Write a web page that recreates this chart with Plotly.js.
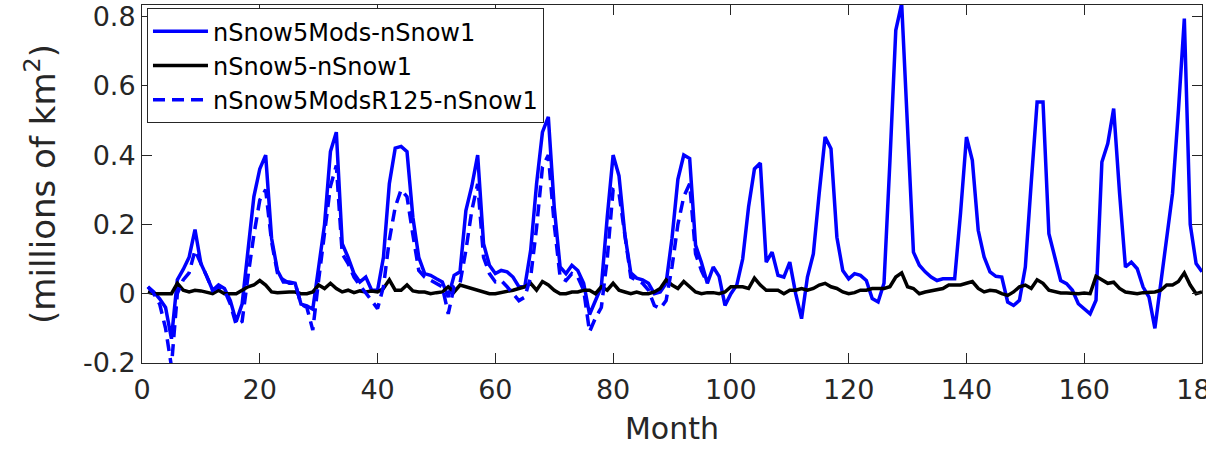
<!DOCTYPE html>
<html>
<head>
<meta charset="utf-8">
<script src="https://cdn.plot.ly/plotly-3.0.1.min.js"></script>
<style>html,body{margin:0;padding:0;background:#fff;}#chart{width:1206px;height:449px;}</style>
</head>
<body>
<div id="chart"></div>
<script>
// Series names
const seriesNames = ["nSnow5Mods-nSnow1", "nSnow5-nSnow1", "nSnow5ModsR125-nSnow1"];

// nSnow5Mods-nSnow1 (months 1..180)
const mods = [
  0.02, 0.005, -0.015, -0.04, -0.13, 0.04, 0.07, 0.105, 0.185, 0.087,
  0.05, 0.01, 0.025, 0.015, -0.02, -0.08, -0.03, 0.135, 0.28, 0.36,
  0.40, 0.16, 0.067, 0.034, 0.034, 0.03, -0.03, -0.035, -0.045, 0.077,
  0.2, 0.41, 0.466, 0.144, 0.105, 0.058, 0.034, 0.048, 0.01, 0.01,
  0.105, 0.317, 0.42, 0.425, 0.41, 0.22, 0.105, 0.058, 0.053, 0.043,
  0.034, -0.01, 0.053, 0.063, 0.24, 0.31, 0.40, 0.144, 0.082, 0.058,
  0.067, 0.063, 0.048, 0.02, 0.02, 0.125, 0.317, 0.466, 0.51, 0.25,
  0.077, 0.058, 0.082, 0.067, 0.03, -0.06, -0.02, 0.02, 0.22, 0.40,
  0.34, 0.17, 0.06, 0.045, 0.04, 0.03, 0.0, 0.005, 0.03, 0.16,
  0.33, 0.40, 0.39, 0.14, 0.09, 0.03, 0.077, 0.05, -0.034, 0.0,
  0.025, 0.1, 0.25, 0.36, 0.377, 0.091, 0.12, 0.053, 0.048, 0.091,
  0.0, -0.072, 0.048, 0.115, 0.29, 0.452, 0.418, 0.163, 0.067, 0.043,
  0.058, 0.053, 0.038, -0.014, -0.024, 0.03, 0.38, 0.76, 0.837, 0.48,
  0.12, 0.082, 0.063, 0.048, 0.038, 0.043, 0.043, 0.043, 0.233, 0.452,
  0.385, 0.183, 0.106, 0.063, 0.05, 0.048, -0.024, -0.034, -0.019, 0.077,
  0.32, 0.553, 0.553, 0.173, 0.106, 0.038, 0.029, 0.01, -0.029, -0.043,
  -0.058, -0.019, 0.38, 0.433, 0.534, 0.29, 0.077, 0.091, 0.072, 0.019,
  -0.01, -0.1, 0.029, 0.164, 0.29, 0.53, 0.794, 0.2, 0.087, 0.063
];

// nSnow5-nSnow1 (months 1..180)
const base5 = [
  0.005, 0.0, 0.0, 0.0, 0.0, 0.03, 0.01, 0.005, 0.01, 0.008,
  0.005, 0.0, 0.01, 0.0, 0.0, 0.0, 0.01, 0.02, 0.025, 0.038,
  0.025, 0.005, 0.003, 0.005, 0.005, 0.005, 0.0, 0.0, 0.005, 0.025,
  0.015, 0.03, 0.015, 0.005, 0.01, 0.003, 0.008, 0.005, 0.008, 0.005,
  0.015, 0.04, 0.01, 0.01, 0.025, 0.008, 0.005, 0.005, 0.0, 0.003,
  0.005, 0.02, 0.005, 0.025, 0.02, 0.015, 0.01, 0.005, 0.0, 0.0,
  0.003, 0.005, 0.01, 0.015, 0.02, 0.03, 0.01, 0.035, 0.025, 0.01,
  0.0, 0.0, 0.005, 0.005, 0.01, 0.01, 0.0, 0.02, 0.01, 0.03,
  0.01, 0.005, 0.0, 0.005, 0.0, 0.0, 0.005, 0.015, 0.04, 0.025,
  0.015, 0.035, 0.02, 0.005, 0.0, 0.003, 0.003, 0.0, 0.005, 0.02,
  0.02, 0.02, 0.015, 0.045, 0.025, 0.01, 0.01, 0.01, 0.0, 0.01,
  0.01, 0.015, 0.01, 0.015, 0.025, 0.03, 0.02, 0.015, 0.005, 0.0,
  0.003, 0.01, 0.01, 0.015, 0.015, 0.015, 0.02, 0.048, 0.06, 0.02,
  0.015, 0.0, 0.005, 0.008, 0.01, 0.015, 0.025, 0.025, 0.025, 0.03,
  0.035, 0.015, 0.005, 0.01, 0.008, 0.0, -0.005, 0.005, 0.02, 0.025,
  0.015, 0.04, 0.03, 0.01, 0.005, 0.002, 0.002, 0.0, 0.0, 0.002,
  0.0, 0.05, 0.04, 0.03, 0.033, 0.015, 0.005, 0.002, 0.0, 0.003,
  0.005, 0.005, 0.01, 0.025, 0.025, 0.035, 0.06, 0.025, 0.0, 0.005
];

// nSnow5ModsR125-nSnow1 (months 1..96)
const modsR125 = [
  0.02, 0.0, -0.03, -0.1, -0.21, 0.0, 0.04, 0.06, 0.125, 0.09,
  0.05, 0.01, 0.02, 0.01, -0.03, -0.09, -0.08, 0.05, 0.17, 0.27,
  0.30, 0.15, 0.06, 0.04, 0.03, 0.03, -0.03, -0.04, -0.105, 0.04,
  0.17, 0.31, 0.37, 0.115, 0.087, 0.048, 0.024, 0.0, -0.02, -0.043,
  0.02, 0.155, 0.25, 0.30, 0.28, 0.17, 0.067, 0.048, 0.038, 0.03,
  0.02, -0.058, 0.02, 0.03, 0.125, 0.24, 0.317, 0.105, 0.058, 0.034,
  0.038, 0.02, 0.0, -0.02, -0.01, 0.048, 0.19, 0.365, 0.40, 0.2,
  0.048, 0.038, 0.058, 0.048, 0.01, -0.11, -0.07, -0.04, 0.1, 0.3,
  0.29, 0.16, 0.048, 0.038, 0.03, 0.01, -0.034, -0.043, -0.02, 0.077,
  0.2, 0.28, 0.317, 0.115, 0.067, 0.03
];

// Axis ticks
const xTicks = [0, 20, 40, 60, 80, 100, 120, 140, 160, 180];
const yTickVals = [-0.2, 0, 0.2, 0.4, 0.6, 0.8];
const yTickText = ["-0.2", "0", "0.2", "0.4", "0.6", "0.8"];

const monthsFor = arr => arr.map((_, i) => i + 1);

const FONT = "DejaVu Sans, sans-serif";
const AX = "#262626";

const traces = [
  { x: monthsFor(mods), y: mods, name: seriesNames[0], type: "scatter", mode: "lines",
    line: { color: "#0000ff", width: 3.5 } },
  { x: monthsFor(base5), y: base5, name: seriesNames[1], type: "scatter", mode: "lines",
    line: { color: "#000000", width: 3.5 } },
  { x: monthsFor(modsR125), y: modsR125, name: seriesNames[2], type: "scatter", mode: "lines",
    line: { color: "#0000ff", width: 3.5, dash: "12px,7px" } }
];

const layout = {
  width: 1206, height: 449,
  margin: { l: 142, r: 4, t: 5, b: 86 },
  paper_bgcolor: "#ffffff", plot_bgcolor: "#ffffff",
  font: { family: FONT, color: AX, size: 26 },
  showlegend: true,
  legend: {
    x: 0.0047, y: 0.991, xanchor: "left", yanchor: "top",
    bgcolor: "#ffffff", bordercolor: AX, borderwidth: 1,
    font: { family: FONT, size: 24, color: "#000000" },
    itemwidth: 55, tracegroupgap: 0
  },
  xaxis: {
    range: [0, 180], tickvals: xTicks, ticktext: xTicks.map(String),
    ticks: "inside", ticklen: 10, tickwidth: 1, tickcolor: AX,
    showline: true, linecolor: AX, linewidth: 1, mirror: "ticks",
    showgrid: false, zeroline: false, ticklabeloverflow: "allow",
    ticklabelstandoff: 3,
    tickfont: { family: FONT, size: 27, color: AX },
    title: { text: "Month", font: { family: FONT, size: 30, color: AX }, standoff: 13 }
  },
  yaxis: {
    range: [-0.2, 0.833], tickvals: yTickVals, ticktext: yTickText,
    ticks: "inside", ticklen: 10, tickwidth: 1, tickcolor: AX,
    showline: true, linecolor: AX, linewidth: 1, mirror: "ticks",
    showgrid: false, zeroline: false,
    tickfont: { family: FONT, size: 27, color: AX },
    title: { text: "(millions of km<sup>2</sup>)", font: { family: FONT, size: 34, color: AX }, standoff: 17 }
  }
};

Plotly.newPlot("chart", traces, layout, { staticPlot: true, displayModeBar: false });
</script>
</body>
</html>
